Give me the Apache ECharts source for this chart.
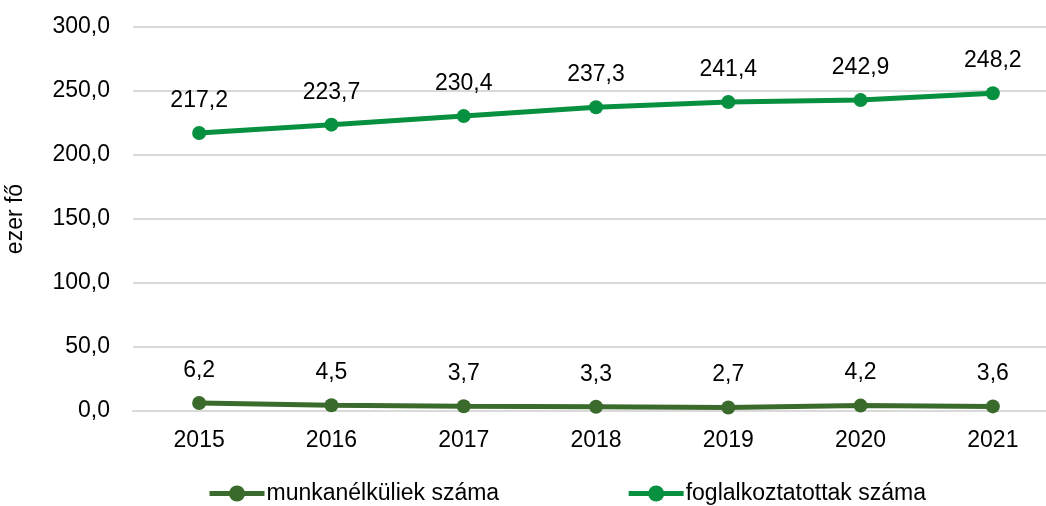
<!DOCTYPE html>
<html>
<head>
<meta charset="utf-8">
<script src="https://cdn.jsdelivr.net/npm/echarts@6/dist/echarts.min.js"></script>
<style>html,body{margin:0;padding:0;background:#fff}#c{width:1046px;height:506px}</style>
</head>
<body>
<div id="c"></div>
<script>
const years = ['2015','2016','2017','2018','2019','2020','2021'];
const unemployed = [6.2, 4.5, 3.7, 3.3, 2.7, 4.2, 3.6];
const employed = [217.2, 223.7, 230.4, 237.3, 241.4, 242.9, 248.2];
const seriesNames = ['munkanélküliek száma', 'foglalkoztatottak száma'];
const yAxisName = 'ezer fő';

const FONT = 'Liberation Sans, Arial, sans-serif';
const fmt = v => Number(v).toFixed(1).replace('.', ',');
const chart = echarts.init(document.getElementById('c'));
function mk(name, data, color) {
  return {
    name, type: 'line', data,
    symbol: 'circle', symbolSize: 14,
    lineStyle: { width: 5, color },
    itemStyle: { color },
    label: { show: true, position: 'top', distance: 14, color: '#000', fontSize: 23, fontFamily: FONT,
      formatter: p => fmt(p.value) },
    emphasis: { disabled: true }
  };
}
chart.setOption({
  animation: false,
  textStyle: { fontFamily: FONT },
  grid: { left: 133, top: 27, height: 384, width: 926, containLabel: false, outerBoundsMode: 'none' },
  legend: {
    left: 207, top: 482, padding: 0, itemWidth: 55, itemHeight: 20, itemGap: 127,
    lineStyle: { width: 5 },
    textStyle: { fontSize: 23, color: '#000', fontFamily: FONT, padding: [0,0,0,-3] },
    data: seriesNames
  },
  xAxis: {
    type: 'category', data: years, boundaryGap: true,
    axisLine: { lineStyle: { color: '#d9d9d9', width: 2 } },
    axisTick: { show: false },
    axisLabel: { color: '#000', fontSize: 23, margin: 18, fontFamily: FONT }
  },
  yAxis: {
    type: 'value', min: 0, max: 300, interval: 50,
    name: yAxisName, nameLocation: 'middle', nameGap: 106,
    nameTextStyle: { fontSize: 23, color: '#000', fontFamily: FONT },
    axisLine: { show: false }, axisTick: { show: false },
    splitLine: { lineStyle: { color: '#d9d9d9', width: 2 } },
    axisLabel: { color: '#000', fontSize: 23, margin: 23, fontFamily: FONT, formatter: v => fmt(v) }
  },
  series: [
    mk(seriesNames[0], unemployed, '#3a6b2c'),
    mk(seriesNames[1], employed, '#07903f')
  ]
});
</script>
</body>
</html>
